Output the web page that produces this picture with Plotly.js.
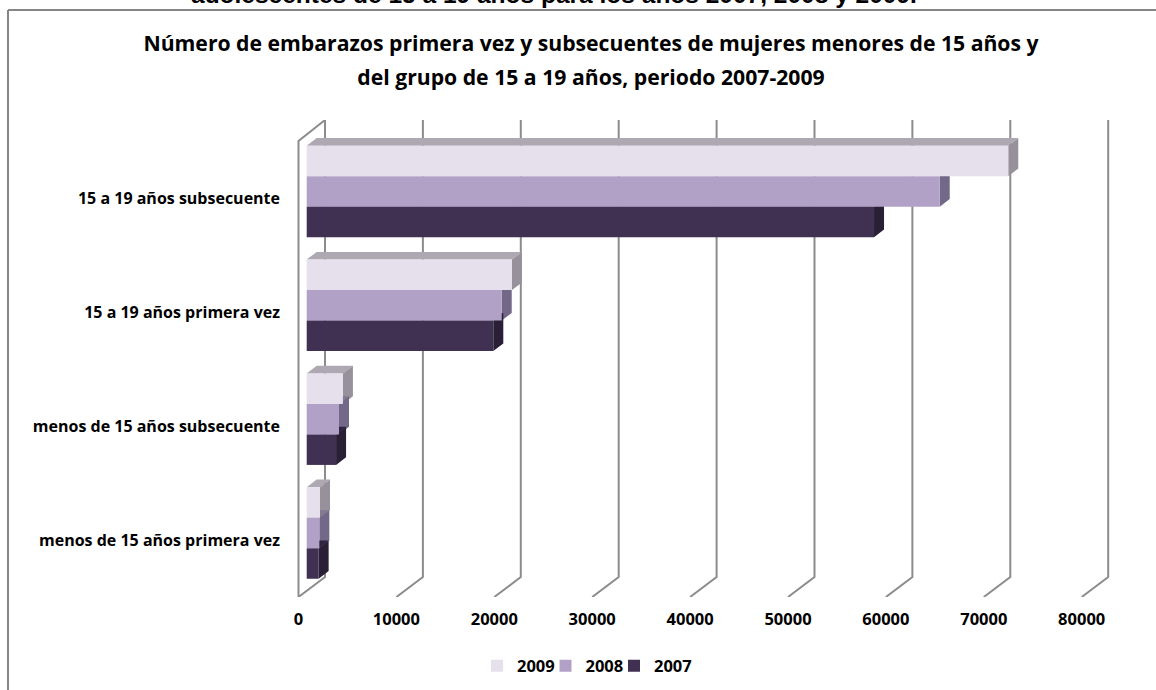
<!DOCTYPE html>
<html>
<head>
<meta charset="utf-8">
<script src="https://cdn.plot.ly/plotly-3.0.1.min.js"></script>
<style>html,body{margin:0;padding:0;background:#fff;overflow:hidden}</style>
</head>
<body>
<div id="chart" style="width:1156px;height:690px"></div>
<script>
const categories = ['menos de 15 años primera vez', 'menos de 15 años subsecuente', '15 a 19 años primera vez', '15 a 19 años subsecuente'];
const values2007 = [1220, 3000, 19060, 57950];
const values2008 = [1290, 3300, 19920, 64660];
const values2009 = [1360, 3700, 20970, 71660];
const xTicks = [0, 10000, 20000, 30000, 40000, 50000, 60000, 70000, 80000];
const seriesNames = ['2007', '2008', '2009'];
const frontColors = ['#403152', '#B2A1C7', '#E6E0EC'];
const sideColors = ['#2A2036', '#736887', '#96919B'];
const topColors = ['#2F2440', '#857A94', '#ADA8B1'];

const W = 1156, H = 690;
const plotL = 296, plotR = 1112, plotT = 120, plotB = 597;
const pxPerX = 97.9 / 10000;          // pixels per data unit
const pxPerY = 113.83;                // pixels per category
const zeroPx = 298.5;
const firstCatPx = 533;
const xRange = [(plotL - zeroPx) / pxPerX, (plotR - zeroPx) / pxPerX];
const yRange = [-(plotB - firstCatPx) / pxPerY, (firstCatPx - plotT) / pxPerY];
const wallDx = 26.5 / pxPerX, wallDy = 20 / pxPerY;
const barOffset = 8.2 / pxPerX, barDx = 10 / pxPerX, barDy = 7.7 / pxPerY;
const barW = 30.5 / pxPerY;
const bargap = 1 - 3 * barW;
const labelShift = 7 / pxPerY;
const cats = categories.map((_, i) => i);
const allValues = [values2007, values2008, values2009];

// spare invisible legend entry: keeps the tightly spaced last entry from being clipped
const traces = [{
  type: 'scatter', mode: 'markers', x: [0], y: [0], xaxis: 'x', yaxis: 'y', name: '\u00a0',
  marker: {opacity: 0, color: 'rgba(0,0,0,0)'}, showlegend: true, hoverinfo: 'skip'
}];

// wall and floor lines
const gx = [], gy = [];
xTicks.forEach(t => {
  gx.push(t, t + wallDx, t + wallDx, null);
  gy.push(yRange[0], yRange[0] + wallDy, yRange[1], null);
});
gx.push(0, 0, wallDx);
gy.push(yRange[0], yRange[1] - 21 / pxPerY, yRange[1]);

traces.push({
  type: 'scatter', mode: 'lines', x: gx, y: gy, xaxis: 'x', yaxis: 'y',
  line: {color: '#8C8C8C', width: 2}, cliponaxis: false, showlegend: false, hoverinfo: 'skip'
});

// top and side faces, back to front
[2, 1, 0].forEach(s => {
  const tx = [], ty = [], sx = [], sy = [];
  allValues[s].forEach((v, i) => {
    const y0 = i + (s - 1.5) * barW, y1 = y0 + barW;
    const xa = barOffset, xb = barOffset + v;
    tx.push(xa, xb, xb + barDx, xa + barDx, xa, null);
    ty.push(y1, y1, y1 + barDy, y1 + barDy, y1, null);
    sx.push(xb, xb + barDx, xb + barDx, xb, xb, null);
    sy.push(y0, y0 + barDy, y1 + barDy, y1, y0, null);
  });
  traces.push({type: 'scatter', mode: 'lines', x: tx, y: ty, xaxis: 'x', yaxis: 'y', fill: 'toself',
    fillcolor: topColors[s], line: {width: 0, color: topColors[s]}, showlegend: false, hoverinfo: 'skip'});
  traces.push({type: 'scatter', mode: 'lines', x: sx, y: sy, xaxis: 'x', yaxis: 'y', fill: 'toself',
    fillcolor: sideColors[s], line: {width: 0, color: sideColors[s]}, showlegend: false, hoverinfo: 'skip'});
});

// front faces
[0, 1, 2].forEach(s => {
  traces.push({type: 'bar', orientation: 'h', name: seriesNames[s], x: allValues[s], y: cats,
    base: barOffset, xaxis: 'x', yaxis: 'y2', marker: {color: frontColors[s], line: {width: 0}}, hoverinfo: 'skip'});
});

const font = '"Open Sans", "Noto Sans", sans-serif';
const titleSpan = t => '<span style="font-size:21.2px">' + t + '</span>';
const layout = {
  width: W, height: H,
  margin: {l: 0, r: 0, t: 0, b: 0, pad: 0},
  paper_bgcolor: '#fff', plot_bgcolor: 'rgba(0,0,0,0)',
  hovermode: false,
  barmode: 'group', bargap: bargap, bargroupgap: 0,
  font: {family: font, color: '#000'},
  title: {
    text: titleSpan('Número de embarazos primera vez y subsecuentes de mujeres menores de 15 años y') + '<br>' + titleSpan('del grupo de 15 a 19 años, periodo 2007-2009'),
    font: {family: font, size: 26, weight: 700, color: '#000'},
    x: 591 / W, xanchor: 'center', xref: 'paper', y: 1 - 51 / H, yanchor: 'top', yref: 'paper'
  },
  xaxis: {
    domain: [plotL / W, plotR / W], range: xRange, anchor: 'y',
    tickmode: 'array', tickvals: xTicks, ticktext: xTicks.map(String),
    showgrid: false, zeroline: false, showline: false, ticks: '', ticklabelstandoff: 10,
    tickfont: {family: font, size: 16.5, weight: 700, color: '#000'}, automargin: false
  },
  yaxis: {
    domain: [1 - plotB / H, 1 - plotT / H], range: yRange,
    visible: false, showgrid: false, zeroline: false, fixedrange: true
  },
  yaxis2: {
    overlaying: 'y', side: 'left', anchor: 'x', range: yRange,
    tickmode: 'array', tickvals: cats.map(c => c - labelShift), ticktext: categories,
    showgrid: false, zeroline: false, showline: false, ticks: '', ticklabelstandoff: 15,
    tickfont: {family: font, size: 16, weight: 700, color: '#000'}, automargin: false
  },
  legend: {
    orientation: 'h', x: 477 / W, xanchor: 'left', y: 1 - 666 / H, yanchor: 'middle',
    traceorder: 'reversed', font: {family: font, size: 16.5, weight: 700, color: '#000'},
    bgcolor: 'rgba(0,0,0,0)', itemclick: false, itemdoubleclick: false,
    entrywidth: 23.5, entrywidthmode: 'pixels'
  },
  annotations: [{
    text: 'adolescentes de 15 a 19 años para los años 2007, 2008 y 2009.',
    xref: 'paper', yref: 'paper', x: 554 / W, y: 1 + 5 / H, xanchor: 'center', yanchor: 'middle',
    showarrow: false, font: {family: '"Liberation Sans", Arial, sans-serif', size: 24.5, weight: 700, color: '#000'}
  }],
  shapes: [
    {type: 'line', xref: 'paper', yref: 'paper', x0: 8 / W, x1: 1, y0: 1 - 10 / H, y1: 1 - 10 / H, line: {color: '#868686', width: 2}, layer: 'below'},
    {type: 'line', xref: 'paper', yref: 'paper', x0: 8 / W, x1: 8 / W, y0: 1 - 10 / H, y1: 0, line: {color: '#868686', width: 2}, layer: 'below'}
  ]
};
Plotly.newPlot('chart', traces, layout, {displayModeBar: false, staticPlot: true});
</script>
</body>
</html>
